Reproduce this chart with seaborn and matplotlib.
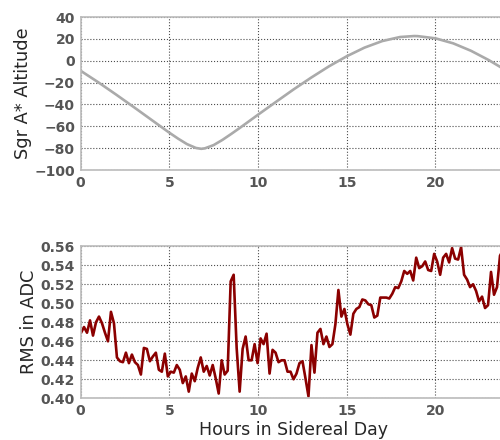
import numpy as np
import pandas as pd
import matplotlib
matplotlib.use("Agg")
import matplotlib.pyplot as plt
import seaborn as sns

# ---- data ----
alt_hours = [0, 1, 2, 3, 4, 5, 5.5, 6, 6.5, 6.8, 7, 7.5, 8, 8.5, 9, 10, 11, 12,
             13, 14, 15, 16, 17, 18, 18.8, 19, 20, 21, 22, 23, 24]
altitude = [-9.1, -19.7, -30.9, -42.4, -54.1, -65.8, -71.3, -76.3, -79.8, -80.6,
            -80.2, -77.2, -72.4, -66.9, -61.2, -49.4, -37.8, -26.3, -15.4, -5.1,
            4.1, 12.0, 18.0, 21.7, 22.6, 22.5, 20.5, 15.9, 9.1, 0.6, -9.1]

rms_start = 0.03
rms_step = 0.1686
rms = [0.469, 0.475, 0.469, 0.482, 0.466, 0.480, 0.486, 0.479, 0.469, 0.460,
       0.491, 0.479, 0.443, 0.439, 0.438, 0.448, 0.437, 0.446, 0.438, 0.435,
       0.425, 0.453, 0.452, 0.439, 0.444, 0.448, 0.430, 0.428, 0.447, 0.423,
       0.428, 0.427, 0.435, 0.430, 0.416, 0.423, 0.407, 0.426, 0.418, 0.432,
       0.443, 0.428, 0.434, 0.424, 0.435, 0.421, 0.405, 0.440, 0.425, 0.429,
       0.523, 0.530, 0.453, 0.407, 0.452, 0.465, 0.440, 0.440, 0.457, 0.437,
       0.463, 0.457, 0.468, 0.426, 0.451, 0.448, 0.438, 0.440, 0.440, 0.428,
       0.428, 0.420, 0.426, 0.437, 0.439, 0.421, 0.402, 0.456, 0.427, 0.469,
       0.473, 0.457, 0.465, 0.454, 0.457, 0.478, 0.514, 0.486, 0.494, 0.478,
       0.467, 0.489, 0.494, 0.496, 0.504, 0.503, 0.499, 0.498, 0.485, 0.487,
       0.506, 0.506, 0.506, 0.505, 0.510, 0.517, 0.516, 0.523, 0.534, 0.531,
       0.534, 0.524, 0.548, 0.537, 0.539, 0.544, 0.535, 0.534, 0.552, 0.544,
       0.530, 0.548, 0.552, 0.543, 0.558, 0.547, 0.546, 0.559, 0.530, 0.525,
       0.517, 0.520, 0.513, 0.502, 0.507, 0.495, 0.498, 0.533, 0.509, 0.517,
       0.550, 0.556]
rms_hours = rms_start + np.arange(len(rms)) * rms_step

alt_ticks = [40, 20, 0, -20, -40, -60, -80, -100]
rms_ticks = [0.40, 0.42, 0.44, 0.46, 0.48, 0.50, 0.52, 0.54, 0.56]
hour_ticks = [0, 5, 10, 15, 20]

df_alt = pd.DataFrame({"hours": alt_hours, "alt": altitude})
df_rms = pd.DataFrame({"hours": rms_hours, "rms": rms})

sns.set_style("white")
plt.rcParams["font.family"] = ["DejaVu Sans"]

fig = plt.figure(figsize=(5, 4.4), dpi=100)
ax1 = fig.add_axes([0.161, 0.6136, 0.852, 0.3477])
ax2 = fig.add_axes([0.161, 0.0948, 0.852, 0.3455])

sns.lineplot(data=df_alt, x="hours", y="alt", ax=ax1, color="#aaaaaa", lw=1.9)
sns.lineplot(data=df_rms, x="hours", y="rms", ax=ax2, color="#8b0000", lw=1.9)

for ax in (ax1, ax2):
    ax.set_xlim(0, 24)
    ax.set_xticks(hour_ticks)
    ax.grid(True, color="0.3", linestyle=":", linewidth=0.8)
    ax.set_axisbelow(True)
    for s in ax.spines.values():
        s.set_color("#bbbbbb")
        s.set_linewidth(1.2)
    ax.tick_params(length=0, pad=4, labelsize=10, labelcolor="#555555")

ax1.set_ylim(-100, 40)
ax1.set_yticks(alt_ticks)
ax1.set_yticklabels(["\u2212" + str(abs(t)) if t < 0 else str(t) for t in alt_ticks],
                    fontweight="bold")
ax1.set_xlabel("")
ax1.set_ylabel("Sgr A* Altitude", fontsize=12.8, labelpad=2)

ax2.set_ylim(0.40, 0.56)
ax2.set_yticks(rms_ticks)
ax2.set_yticklabels([f"{t:.2f}" for t in rms_ticks], fontweight="bold")
ax2.set_xlabel("Hours in Sidereal Day", fontsize=12.5, labelpad=2)
ax2.set_ylabel("RMS in ADC", fontsize=12.8, labelpad=2)

for ax in (ax1, ax2):
    for lab in ax.get_xticklabels():
        lab.set_fontweight("bold")

fig.savefig("out.png", dpi=100)
